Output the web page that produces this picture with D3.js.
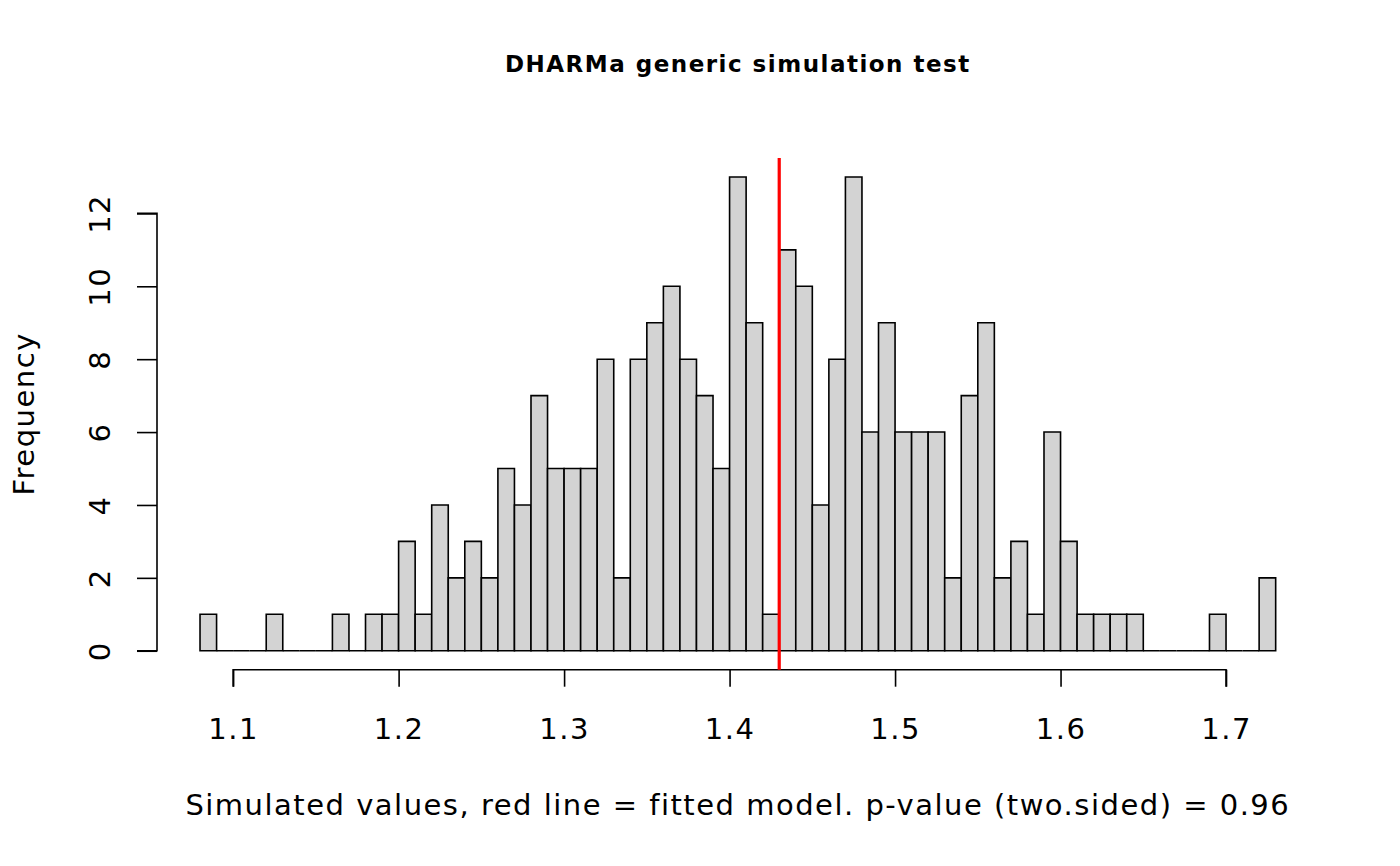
<!DOCTYPE html>
<html><head><meta charset="utf-8">
<script src="https://cdn.jsdelivr.net/npm/d3@7"></script>
<style>body{margin:0;background:#fff}svg{display:block}text{font-family:"DejaVu Sans",sans-serif}</style>
</head><body>
<script>
const binStart = 1.08, binWidth = 0.01;
const counts = [1,0,0,0,1,0,0,0,1,0,1,1,3,1,4,2,3,2,5,4,7,5,5,5,8,2,8,9,10,8,7,5,13,9,1,11,10,4,8,13,6,9,6,6,6,2,7,9,2,3,1,6,3,1,1,1,1,0,0,0,0,1,0,0,2];
const xTicks = [1.1,1.2,1.3,1.4,1.5,1.6,1.7];
const yTicks = [0,2,4,6,8,10,12];
const observed = 1.43;
const titleText = "DHARMa generic simulation test";
const xLabel = "Simulated values, red line = fitted model. p-value (two.sided) = 0.96";
const yLabel = "Frequency";

const bins = counts.map((c,i)=>({x0: +(binStart+i*binWidth).toFixed(2), x1: +(binStart+(i+1)*binWidth).toFixed(2), n:c}));
const W=1400,H=866;
const svg=d3.select("body").append("svg").attr("width",W).attr("height",H);
const xmin=bins[0].x0, xmax=bins[bins.length-1].x1, xr=xmax-xmin;
const x=d3.scaleLinear().domain([xmin-0.04*xr, xmax+0.04*xr]).range([157,1318.7]);
const ymax=d3.max(counts);
const y=d3.scaleLinear().domain([-0.04*ymax, ymax*1.04]).range([669.7,158]);
const FS=29, LS="1.5px";

svg.append("g").selectAll("path").data(bins).join("path")
  .attr("d",d=>`M${x(d.x0)},${y(0)}V${y(d.n)}H${x(d.x1)}V${y(0)}Z`)
  .attr("fill","#d3d3d3").attr("stroke","#000").attr("stroke-width",1.6).attr("stroke-linejoin","miter");

// x axis
const xa=svg.append("g").attr("transform",`translate(0,${y.range()[0]})`)
  .call(d3.axisBottom(x).tickValues(xTicks).tickSize(17).tickFormat(d3.format(".1f")));
xa.select(".domain").attr("d",`M${x(xTicks[0])},17V0H${x(xTicks[xTicks.length-1])}V17`).attr("stroke-width",1.6);
xa.selectAll(".tick line").attr("stroke-width",1.6);
xa.selectAll(".tick text").attr("font-size",FS).attr("letter-spacing",LS).attr("fill","#000")
  .attr("font-family","DejaVu Sans").attr("y",69.5).attr("dy",null);

// y axis
const ya=svg.append("g").attr("transform",`translate(${x.range()[0]},0)`)
  .call(d3.axisLeft(y).tickValues(yTicks).tickSize(20));
ya.select(".domain").attr("d",`M-20,${y(yTicks[0])}H0V${y(yTicks[yTicks.length-1])}H-20`).attr("stroke-width",1.6);
ya.selectAll(".tick line").attr("stroke-width",1.6);
ya.selectAll(".tick text").attr("font-size",FS).attr("letter-spacing",LS).attr("fill","#000").attr("font-family","DejaVu Sans")
  .attr("x",null).attr("dy",null).attr("text-anchor","middle")
  .attr("transform","translate(-47,0) rotate(-90)");

// red line
svg.append("line").attr("x1",x(observed)).attr("x2",x(observed))
  .attr("y1",y.range()[1]).attr("y2",y.range()[0]).attr("stroke","red").attr("stroke-width",3.2);

svg.append("text").attr("x",(157+1318.7)/2).attr("y",72).attr("text-anchor","middle")
  .attr("font-size",23).attr("letter-spacing",LS).attr("font-weight","bold").text(titleText);
svg.append("text").attr("x",(157+1318.7)/2).attr("y",815).attr("text-anchor","middle")
  .attr("font-size",FS).attr("letter-spacing",LS).text(xLabel);
svg.append("text").attr("transform",`translate(34,${(158+669.7)/2}) rotate(-90)`).attr("text-anchor","middle")
  .attr("font-size",FS).attr("letter-spacing",LS).text(yLabel);
</script>
</body></html>
